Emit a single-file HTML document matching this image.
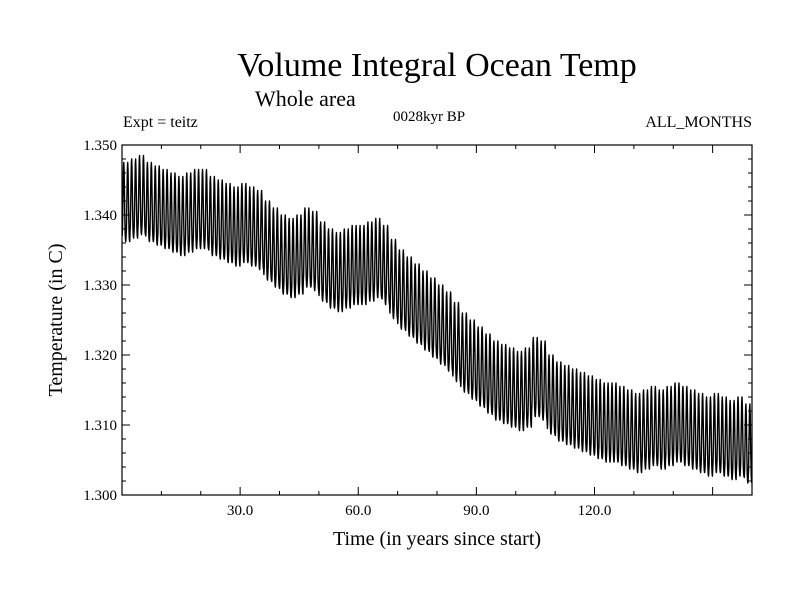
<!DOCTYPE html>
<html><head><meta charset="utf-8"><style>
body{margin:0;background:#fff}
svg text{font-family:"Liberation Serif",serif;fill:#000}
</style></head><body>
<svg id="chart" width="800" height="600">
<text x="437" y="76" font-size="34" text-anchor="middle">Volume Integral Ocean Temp</text>
<text x="255" y="106" font-size="22">Whole area</text>
<text x="123" y="127" font-size="16">Expt = teitz</text>
<text x="393" y="121" font-size="15">0028kyr BP</text>
<text x="752" y="127" font-size="16" text-anchor="end">ALL_MONTHS</text>
<text x="437" y="545" font-size="20" text-anchor="middle">Time (in years since start)</text>
<text x="62" y="320" font-size="20" text-anchor="middle" transform="rotate(-90 62 320)">Temperature (in C)</text>
<g id="axes"></g>
<path id="series" fill="none" stroke="#000" stroke-width="1.4" stroke-linejoin="round"></path>
<rect x="122" y="145" width="630" height="350" fill="none" stroke="#000" stroke-width="1.2"></rect>
</svg>
<script>
const yearStarts = [0,2,4,6,8,10,12,14,16,18,20,22,24,26,28,30,32,34,36,38,40,42,44,46,48,50,52,54,56,58,60,62,64,66,68,70,72,74,76,78,80,82,84,86,88,90,92,94,96,98,100,102,104,106,108,110,112,114,116,118,120,122,124,126,128,130,132,134,136,138,140,142,144,146,148,150,152,154,156,158];
const meanTemps = [1.3420,1.3425,1.3430,1.3420,1.3415,1.3410,1.3405,1.3400,1.3405,1.3410,
1.3410,1.3400,1.3395,1.3390,1.3385,1.3390,1.3385,1.3380,1.3365,1.3355,
1.3345,1.3340,1.3345,1.3355,1.3350,1.3335,1.3325,1.3320,1.3325,1.3330,
1.3330,1.3335,1.3340,1.3330,1.3310,1.3295,1.3285,1.3275,1.3265,1.3255,
1.3245,1.3235,1.3220,1.3205,1.3195,1.3185,1.3175,1.3165,1.3160,1.3155,
1.3150,1.3155,1.3170,1.3165,1.3145,1.3135,1.3130,1.3125,1.3120,1.3115,
1.3110,1.3105,1.3105,1.3100,1.3095,1.3090,1.3095,1.3100,1.3095,1.3100,
1.3105,1.3100,1.3095,1.3090,1.3085,1.3090,1.3085,1.3080,1.3085,1.3075];
const seasonalAnom = [-0.0050,-0.0040,-0.0010,0.0020,0.0048,0.0055,0.0042,0.0012,-0.0020,-0.0045,-0.0055,-0.0058];
const yTickValues = [1.300,1.310,1.320,1.330,1.340,1.350];
const yTickLabels = ["1.300","1.310","1.320","1.330","1.340","1.350"];
const xTickValues = [30,60,90,120];
const xTickLabels = ["30.0","60.0","90.0","120.0"];

const X0=122,X1=752,Y0=495,Y1=145,XMIN=0,XMAX=160,YMIN=1.300,YMAX=1.350;
const sx=v=>X0+(v-XMIN)/(XMAX-XMIN)*(X1-X0);
const sy=v=>Y0-(v-YMIN)/(YMAX-YMIN)*(Y0-Y1);
const NS="http://www.w3.org/2000/svg";
const axes=document.getElementById('axes');
function line(x1,y1,x2,y2,name){const l=document.createElementNS(NS,'line');
l.setAttribute('x1',x1);l.setAttribute('y1',y1);l.setAttribute('x2',x2);l.setAttribute('y2',y2);
l.setAttribute('stroke','#000');l.setAttribute('stroke-width','1');


axes.appendChild(l);}
function text(x,y,s,anchor,name){const t=document.createElementNS(NS,'text');
t.setAttribute('x',x);t.setAttribute('y',y);t.setAttribute('font-size','15');t.setAttribute('text-anchor',anchor);t.textContent=s;


axes.appendChild(t);}
for(let v=1.300;v<=1.3501;v+=0.002){const y=sy(v);const major=Math.abs(Math.round(v*1000)%10)<0.5;const L=major?8:4;
line(X0,y,X0+L,y,'y-tick');line(X1,y,X1-L,y,'y-tick-right');}
yTickValues.forEach((v,i)=>text(X0-5,sy(v)+5,yTickLabels[i],'end','y-tick-label'));
for(let v=10;v<XMAX;v+=10){const x=sx(v);const major=v%30===0;const L=major?8:4;
line(x,Y0,x,Y0-L,'x-tick');line(x,Y1,x,Y1+L,'x-tick-top');}
xTickValues.forEach((v,i)=>text(sx(v),Y0+20,xTickLabels[i],'middle','x-tick-label'));
let d='';
yearStarts.forEach((ys,i)=>{for(let yr=ys;yr<ys+2;yr++){for(let m=0;m<12;m++){
const t=yr+(m+0.5)/12;if(t>XMAX)continue;
const v=meanTemps[i]+seasonalAnom[m];
d+=(d?'L':'M')+sx(t).toFixed(2)+','+sy(v).toFixed(2);}}});
document.getElementById('series').setAttribute('d',d);
</script>
</body></html>
